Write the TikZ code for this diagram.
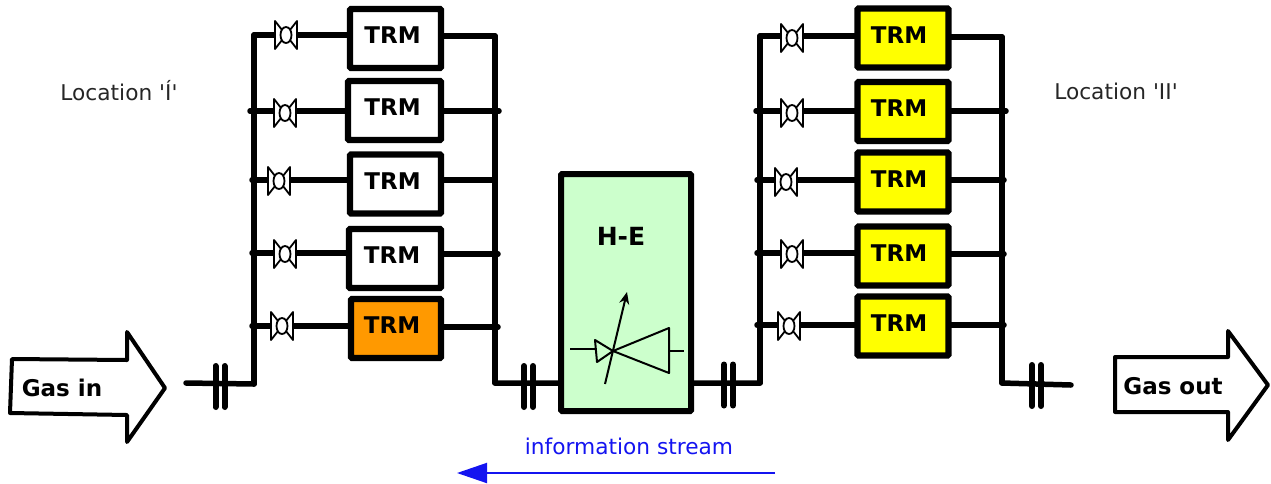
\documentclass[tikz,border=0pt]{standalone}
\usepackage{fontspec}
\setmainfont{DejaVu Sans}
\usetikzlibrary{arrows.meta,shapes.geometric}
\definecolor{helegreen}{HTML}{CCFFCC}
\definecolor{trmorange}{HTML}{FF9900}
\definecolor{trmyellow}{HTML}{FFFF00}
\definecolor{infoblue}{HTML}{1414F0}

\begin{document}
\begin{tikzpicture}[x=1pt, y=-1pt, font=\fontsize{22}{26}\selectfont,
    pipe/.style={line width=5.5pt, line cap=round, line join=round},
    trm/.style={draw, line width=6.2pt, rounded corners=1pt, inner sep=0pt, inner xsep=-6pt,
      minimum height=59pt, text depth=6pt, font=\fontsize{23}{26}\selectfont\bfseries},
    hot/.style={trm, fill=trmorange},
    cold/.style={trm, fill=trmyellow},
    place/.style={font=\fontsize{21.7}{26}\selectfont, text=black!85},
    stream/.style={draw, line width=4pt, line join=round, fill=white},
    thin wire/.style={line width=2pt, line join=round},
    pics/valve/.style={code={
      \draw[line width=1.8pt, fill=white, line join=round]
        (-11,-14) -- (11,14) -- (11,-14) -- (-11,14) -- cycle;
      \node[ellipse, draw, line width=1.8pt, fill=white, inner sep=0pt,
        minimum width=11pt, minimum height=16pt] (-c) {};}},
    pics/gap/.style={code={
      \draw[line width=6pt, line cap=round] (-4.5,-20) -- (-4.5,21);
      \draw[line width=6pt, line cap=round] (4.5,-20) -- (4.5,21);}}]
  \useasboundingbox (0,0) rectangle (1271,483);
  % left group
  \node[trm, minimum width=91pt] (t1) at (395.5,38.5) {\hspace*{-6pt}TRM};
  \node[trm, minimum width=93pt] (t2) at (394.5,110.5) {\hspace*{-4pt}TRM};
  \node[trm, minimum width=91pt] (t3) at (395.5,184) {\hspace*{-6pt}TRM};
  \node[trm, minimum width=92pt] (t4) at (395,258.5) {\hspace*{-6pt}TRM};
  \node[hot, minimum width=90pt] (t5) at (396,328.5) {\hspace*{-8pt}TRM};
  % right group
  \node[cold, minimum width=91pt] (u1) at (903,38) {\hspace*{-8pt}TRM};
  \node[cold, minimum width=91pt] (u2) at (903,111.5) {\hspace*{-8pt}TRM};
  \node[cold, minimum width=91pt] (u3) at (903,182) {\hspace*{-8pt}TRM};
  \node[cold, minimum width=91pt] (u4) at (903,256) {\hspace*{-8pt}TRM};
  \node[cold, minimum width=91pt] (u5) at (903,326) {\hspace*{-8pt}TRM};
  % heat exchanger
  \node[draw, fill=helegreen, line width=6pt, rounded corners=1pt, minimum width=130pt,
    minimum height=237pt] (he) at (626,292.5) {};
  \node[font=\fontsize{25}{28}\selectfont\bfseries] (helabel) at (621,236) {H-E};
  % bus joints
  \coordinate (la) at (254,35);  \coordinate (lb) at (254,384);
  \coordinate (ma) at (495,36);  \coordinate (mb) at (495,383);
  \coordinate (na) at (760,36);  \coordinate (nb) at (760,383);
  \coordinate (ra) at (1002,37); \coordinate (rb) at (1002,383);
  \coordinate (gin) at (186,383);   \coordinate (gout) at (1071,385);
  \coordinate (l2) at (250,111); \coordinate (m2) at (499,111);
  \coordinate (l3) at (252,180); \coordinate (m3) at (495,180);
  \coordinate (l4) at (252,253); \coordinate (m4) at (498,254);
  \coordinate (l5) at (252,326); \coordinate (m5) at (498,327);
  \coordinate (n2) at (756,111); \coordinate (r2) at (1006,111);
  \coordinate (n3) at (757,180); \coordinate (r3) at (1004,180);
  \coordinate (n4) at (757,253); \coordinate (r4) at (1004,254);
  \coordinate (n5) at (757,325); \coordinate (r5) at (1004,325);
  \draw[pipe] (la) -- (lb) (ma) -- (mb) (na) -- (nb) (ra) -- (rb);
  \draw[pipe] (gin) -- (lb) (mb) -- (he.west |- mb) (he.east |- nb) -- (nb) (rb) -- (gout);
  \draw[pipe]
    (la) -- (t1.west |- la)   (t1.east |- ma) -- (ma)
    (l2) -- (t2.west |- l2)   (t2.east |- m2) -- (m2)
    (l3) -- (t3.west |- l3)   (t3.east |- m3) -- (m3)
    (l4) -- (t4.west |- l4)   (t4.east |- m4) -- (m4)
    (l5) -- (t5.west |- l5)   (t5.east |- m5) -- (m5);
  \draw[pipe]
    (na) -- (u1.west |- na)   (u1.east |- ra) -- (ra)
    (n2) -- (u2.west |- n2)   (u2.east |- r2) -- (r2)
    (n3) -- (u3.west |- n3)   (u3.east |- r3) -- (r3)
    (n4) -- (u4.west |- n4)   (u4.east |- r4) -- (r4)
    (n5) -- (u5.west |- n5)   (u5.east |- r5) -- (r5);
  % valves
  \pic (v1) at (286,35) {valve};
  \pic (v2) at (285,113) {valve};
  \pic (v3) at (279,181) {valve};
  \pic (v4) at (285,254) {valve};
  \pic (v5) at (282,326) {valve};
  \pic (w1) at (792,38) {valve};
  \pic (w2) at (792,113) {valve};
  \pic (w3) at (786,182) {valve};
  \pic (w4) at (792,254) {valve};
  \pic (w5) at (789,326) {valve};
  % insulating gaps
  \pic (g1) at (220,386) {gap};
  \pic (g2) at (528.5,386) {gap};
  \pic (g3) at (728.5,384.5) {gap};
  \pic (g4) at (1036.5,385) {gap};
  % streams
  \draw[stream] (12,359) -- (127,360) -- (127,332) -- (165,388) -- (127,442)
    -- (127,415) -- (10,413) -- cycle;
  \draw[stream] (1115,357) -- (1228,357) -- (1228,331) -- (1268,385) -- (1228,440)
    -- (1228,412) -- (1115,412) -- cycle;
  \node[font=\fontsize{23}{26}\selectfont\bfseries] (gasin) at (62,388) {Gas in};
  \node[font=\fontsize{23}{26}\selectfont\bfseries] (gasout) at (1173,386) {Gas out};
  % varistor symbol
  \draw[thin wire] (570,349) -- (596,349);
  \draw[thin wire] (595,340) -- (597,362) -- (613,351) -- cycle;
  \draw[thin wire] (669,328) -- (669,373) -- (613,351) -- cycle;
  \draw[thin wire] (669,351) -- (684,351);
  \draw[thin wire, -{Stealth[length=12pt,width=10pt]}] (605,384) -- (627,292);
  % texts
  \node[place] (loc1) at (119,91) {Location \textquotesingle Í\textquotesingle};
  \node[place] (loc2) at (1116,91) {Location \textquotesingle II\textquotesingle};
  \node[font=\fontsize{21.7}{26}\selectfont, text=infoblue] (info) at (629,446) {information stream};
  \coordinate (sa) at (775,473); \coordinate (sb) at (457,473);
  \draw[infoblue, line width=2pt, -{Stealth[length=30pt,width=20pt,inset=0pt]}] (sa) -- (sb);
\end{tikzpicture}
\end{document}
